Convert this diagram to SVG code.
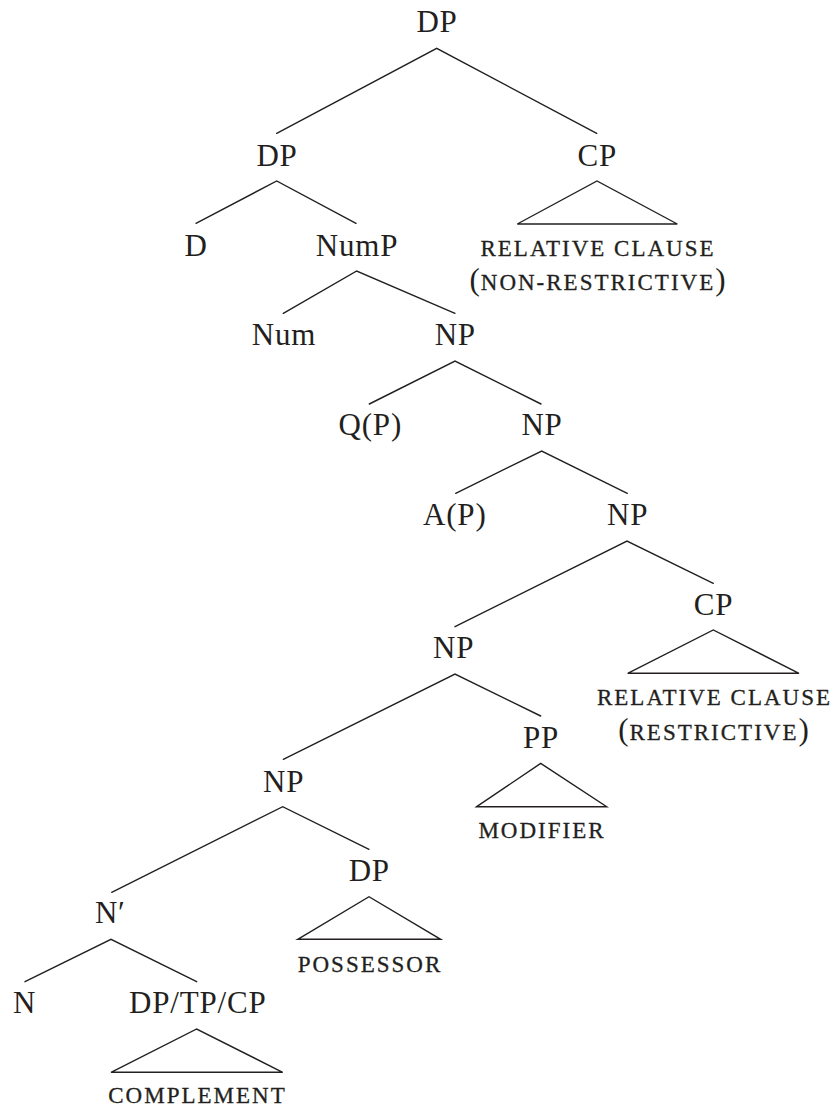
<svg xmlns="http://www.w3.org/2000/svg" width="834" height="1108" viewBox="0 0 834 1108">
  <style>
    .lbl { font-family: "Liberation Serif", "DejaVu Serif", serif; font-size: 31px; letter-spacing: 0.8px; fill: #231f20; text-anchor: middle; }
    .sc { font-family: "Liberation Serif", "DejaVu Serif", serif; font-size: 23px; fill: #231f20; stroke: #231f20; stroke-width: 0.3; text-anchor: middle; letter-spacing: 2px; }
    .big { font-size: 31px; stroke-width: 0; letter-spacing: 1px; }
    .edge { stroke: #231f20; stroke-width: 1.4; fill: none; stroke-linecap: round; }
  </style>
  <rect width="834" height="1108" fill="#ffffff"/>

  <!-- branches and roofs -->
  <g id="connectors">
    <polyline class="edge" points="276.7,133.3 436.7,48.3 596.7,133.3"/>
    <polyline class="edge" points="196,223.3 276.7,181 356,223.3"/>
    <polygon class="edge" points="517.3,224 597,181 677.3,224"/>
    <polyline class="edge" points="283.3,313.3 356.7,271 455,313.3"/>
    <polyline class="edge" points="369.3,404 455,361 541,404"/>
    <polyline class="edge" points="455.7,493.3 541.7,451 627.3,493.3"/>
    <polyline class="edge" points="455,626.7 627,541 713.3,583.3"/>
    <polygon class="edge" points="627.7,673.3 713.3,630 799,673.3"/>
    <polyline class="edge" points="283.3,759.3 455,674 540.7,716"/>
    <polygon class="edge" points="476.7,806.7 540.7,763.3 606.7,806.7"/>
    <polyline class="edge" points="111.7,892.3 282.7,806.7 369,849.3"/>
    <polygon class="edge" points="297.7,939.3 369,896.7 440.7,939.3"/>
    <polyline class="edge" points="25,981.7 111,939.3 196.7,981.7"/>
    <polygon class="edge" points="111,1072.3 196.7,1029 282.7,1072.3"/>
  </g>

  <g id="dp-root"><text class="lbl" x="437" y="32">DP</text></g>
  <g id="dp"><text class="lbl" x="277" y="165.7">DP</text></g>
  <g id="cp-nonrestrictive">
    <text class="lbl" x="597.3" y="165.7">CP</text>
    <text class="sc" x="598" y="256">RELATIVE CLAUSE</text>
    <text class="sc" x="598" y="290"><tspan class="big">(</tspan>NON-RESTRICTIVE<tspan class="big">)</tspan></text>
  </g>
  <g id="d"><text class="lbl" x="196" y="256">D</text></g>
  <g id="nump"><text class="lbl" x="357" y="256">NumP</text></g>
  <g id="num"><text class="lbl" x="284" y="345">Num</text></g>
  <g id="np1"><text class="lbl" x="455.3" y="345">NP</text></g>
  <g id="qp"><text class="lbl" x="370.3" y="435">Q(P)</text></g>
  <g id="np2"><text class="lbl" x="542" y="435">NP</text></g>
  <g id="ap"><text class="lbl" x="454.8" y="525">A(P)</text></g>
  <g id="np3"><text class="lbl" x="627.6" y="525">NP</text></g>
  <g id="cp-restrictive">
    <text class="lbl" x="713.6" y="615">CP</text>
    <text class="sc" x="714.5" y="704.5">RELATIVE CLAUSE</text>
    <text class="sc" x="714" y="739.5"><tspan class="big">(</tspan>RESTRICTIVE<tspan class="big">)</tspan></text>
  </g>
  <g id="np4"><text class="lbl" x="453.6" y="658.3">NP</text></g>
  <g id="pp">
    <text class="lbl" x="541" y="748.3">PP</text>
    <text class="sc" x="542" y="838">MODIFIER</text>
  </g>
  <g id="np5"><text class="lbl" x="283.6" y="791.7">NP</text></g>
  <g id="dp-possessor">
    <text class="lbl" x="369.3" y="880.7">DP</text>
    <text class="sc" x="370" y="971.5">POSSESSOR</text>
  </g>
  <g id="nbar"><text class="lbl" x="110.3" y="923.3">N′</text></g>
  <g id="n"><text class="lbl" x="24.5" y="1013.3">N</text></g>
  <g id="complement">
    <text class="lbl" x="197.8" y="1013.3">DP/TP/CP</text>
    <text class="sc" x="197.5" y="1102.7">COMPLEMENT</text>
  </g>
</svg>
